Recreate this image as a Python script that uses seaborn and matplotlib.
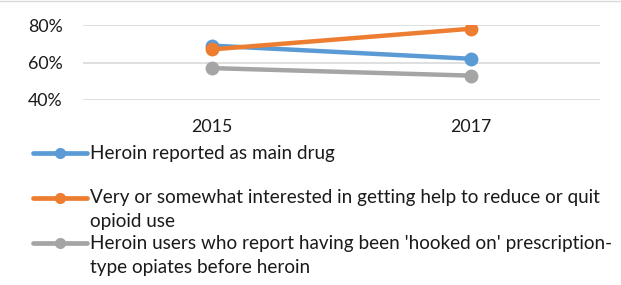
import pandas as pd
import matplotlib
matplotlib.use("Agg")
import matplotlib.pyplot as plt
import seaborn as sns
from matplotlib.lines import Line2D

years = ["2015", "2017"]
series = [
    "Heroin reported as main drug",
    "Very or somewhat interested in getting help to reduce or quit\nopioid use",
    "Heroin users who report having been 'hooked on' prescription-\ntype opiates before heroin",
]
main_drug = [69, 62]
want_help = [67, 78]
hooked_rx = [57, 53]
colors = ["#5B9BD5", "#ED7D31", "#A5A5A5"]

rows = []
for name, vals in zip(series, [main_drug, want_help, hooked_rx]):
    for y, v in zip(years, vals):
        rows.append({"year": y, "value": v, "series": name})
df = pd.DataFrame(rows)

sns.set_style("white")
plt.rcParams["font.family"] = ["Lato", "DejaVu Sans"]

fig = plt.figure(figsize=(6.21, 2.85), dpi=100)
ax = fig.add_axes([83 / 621, 1 - 100 / 285, 517 / 621, 75 / 285])

sns.lineplot(data=df, x="year", y="value", hue="series", palette=colors,
             marker="o", markersize=10, markeredgewidth=0, linewidth=3.2,
             legend=False, ax=ax)

ax.set_xlim(-0.5, 1.5)
ax.set_ylim(40, 80)
ax.set_yticks([40, 60, 80])
ax.set_yticklabels(["40%", "60%", "80%"])
ax.set_xlabel("")
ax.set_ylabel("")
ax.grid(axis="y", color="#D9D9D9", linewidth=1.2)
ax.set_axisbelow(True)
for s in ax.spines.values():
    s.set_visible(False)
ax.tick_params(axis="both", length=0, labelsize=12.8, colors="#1a1a1a")
ax.tick_params(axis="y", pad=14.5)
ax.tick_params(axis="x", pad=14)

# legend, Excel style: handle aligned with first text line
leg_y = [153, 198, 243]
line_gap = 24
for name, c, yy in zip(series, colors, leg_y):
    fy = 1 - yy / 285
    fig.add_artist(Line2D([33 / 621, 87 / 621], [fy, fy], color=c, linewidth=3.4,
                          solid_capstyle="round"))
    fig.add_artist(Line2D([60 / 621], [fy], color=c, marker="o", markersize=8,
                          markeredgewidth=0))
    for k, part in enumerate(name.split("\n")):
        fig.text(90 / 621, 1 - (yy + k * line_gap) / 285, part, ha="left",
                 va="center", fontsize=13.6, color="#1a1a1a")

fig.add_artist(Line2D([0, 1], [1 - 1 / 285, 1 - 1 / 285], color="#D9D9D9", linewidth=1))

fig.savefig("out.png", dpi=100)
